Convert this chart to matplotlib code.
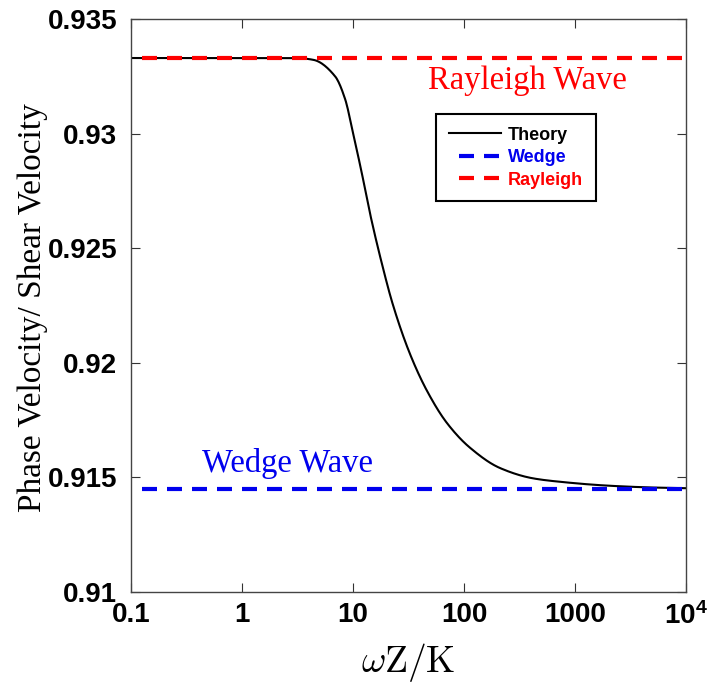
import numpy as np
import matplotlib
matplotlib.use("Agg")
import matplotlib.pyplot as plt
from matplotlib.lines import Line2D

plt.rcParams['mathtext.fontset'] = 'custom'
plt.rcParams['mathtext.rm'] = 'Liberation Sans'
plt.rcParams['mathtext.bf'] = 'Liberation Sans:bold'

TICKFONT = 'Liberation Sans'

# theory curve
omega = [0.1, 0.3, 1, 2, 3.3, 4.4, 6.9, 8.5, 10, 12, 14.2, 18.2, 22.9, 32.6,
         46.5, 70.3, 113, 211, 419, 733, 2000, 5000, 10000]
phase = [0.93330, 0.93330, 0.93330, 0.93330, 0.93329, 0.93322, 0.93250, 0.93150,
         0.93003, 0.92828, 0.92654, 0.92433, 0.92253, 0.92039, 0.91877, 0.91737,
         0.91630, 0.91541, 0.91496, 0.91481, 0.91464, 0.91456, 0.91453]

rayleigh = 0.9333
wedge = 0.9145
line_x = [0.1256, 1e4]

xticks = [0.1, 1, 10, 100, 1000, 1e4]
xlabels = ['0.1', '1', '10', '100', '1000', r'$\mathbf{10^4}$']
yticks = [0.91, 0.915, 0.92, 0.925, 0.93, 0.935]
ylabels = ['0.91', '0.915', '0.92', '0.925', '0.93', '0.935']


# monotone cubic (Fritsch-Carlson) so the curve comes out smooth
def pchip(x, y, xs):
    x = np.asarray(x, float)
    y = np.asarray(y, float)
    h = np.diff(x)
    d = np.diff(y) / h
    m = np.zeros_like(y)
    m[0], m[-1] = d[0], d[-1]
    for k in range(1, len(x) - 1):
        if d[k - 1] * d[k] > 0:
            w1 = 2 * h[k] + h[k - 1]
            w2 = h[k] + 2 * h[k - 1]
            m[k] = (w1 + w2) / (w1 / d[k - 1] + w2 / d[k])
    i = np.clip(np.searchsorted(x, xs) - 1, 0, len(x) - 2)
    t = (xs - x[i]) / h[i]
    h00 = 2 * t**3 - 3 * t**2 + 1
    h10 = t**3 - 2 * t**2 + t
    h01 = -2 * t**3 + 3 * t**2
    h11 = t**3 - t**2
    return h00 * y[i] + h10 * h[i] * m[i] + h01 * y[i + 1] + h11 * h[i] * m[i + 1]


fig = plt.figure(figsize=(7.07, 6.83), dpi=100)
ax = fig.add_axes([0.1853, 0.1332, 0.785, 0.8389])

lx = np.log10(omega)
xs = np.linspace(lx[0], lx[-1], 600)
ax.plot(10 ** xs, pchip(lx, phase, xs), color='black', lw=1.5)
ax.plot(line_x, [wedge, wedge], color='#0000ee', lw=3.0, dashes=(3.6, 2.4))
ax.plot(line_x, [rayleigh, rayleigh], color='#ff0000', lw=3.0, dashes=(3.6, 2.4))

ax.set_xscale('log')
ax.set_xlim(0.1, 1e4)
ax.set_ylim(0.91, 0.935)
ax.set_xticks(xticks)
ax.set_xticklabels(xlabels)
ax.minorticks_off()
ax.set_yticks(yticks)
ax.set_yticklabels(ylabels)

for lab in ax.get_xticklabels() + ax.get_yticklabels():
    lab.set_fontfamily(TICKFONT)
    lab.set_fontweight('bold')
    lab.set_fontsize(20)

ax.tick_params(direction='in', length=6.5, width=0.8, top=True, right=True, color='#333333')
ax.tick_params(axis='y', pad=10)
ax.tick_params(axis='x', pad=7)
for s in ax.spines.values():
    s.set_color('#444444')
    s.set_linewidth(1.0)

ax.set_ylabel('Phase Velocity/ Shear Velocity', fontfamily='Liberation Serif', fontsize=24)
ax.yaxis.set_label_coords(-0.15, 0.497)
ax.set_xlabel(r'$\omega\mathrm{Z}/\mathrm{K}$', fontsize=27, math_fontfamily='cm', labelpad=8)

ax.text(373, 0.93195, 'Rayleigh Wave', color='#ff0000', fontfamily='Liberation Serif',
        fontsize=23.5, ha='center', va='baseline')
ax.text(2.57, 0.91525, 'Wedge Wave', color='#0000ee', fontfamily='Liberation Serif',
        fontsize=23.5, ha='center', va='baseline')

handles = [Line2D([], [], color='black', lw=1.5),
           Line2D([], [], color='#0000ee', lw=3.0, linestyle=(3.6, (3.6, 2.4))),
           Line2D([], [], color='#ff0000', lw=3.0, linestyle=(3.6, (3.6, 2.4)))]
leg = ax.legend(handles, ['Theory', 'Wedge', 'Rayleigh'], loc='upper left',
                bbox_to_anchor=(0.5495, 0.834), borderaxespad=0, fancybox=False,
                framealpha=1, edgecolor='black', handlelength=2.9, handletextpad=0.4,
                borderpad=0.7, labelspacing=0.3,
                prop={'family': TICKFONT, 'weight': 'bold', 'size': 13})
leg.get_frame().set_linewidth(1.5)
for t, c in zip(leg.get_texts(), ['black', '#0000ee', '#ff0000']):
    t.set_color(c)

fig.savefig('out.png', dpi=100)
